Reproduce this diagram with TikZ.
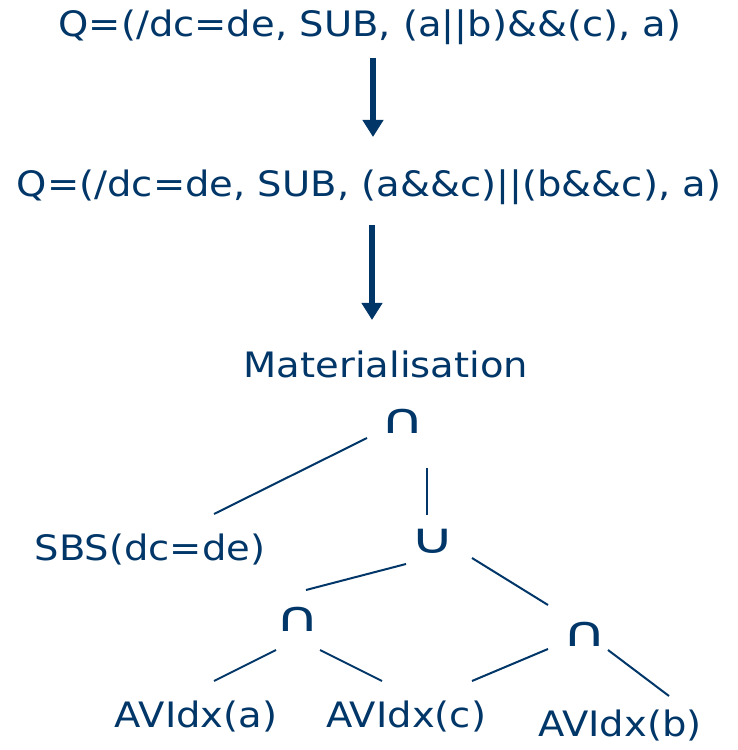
\documentclass[tikz,border=0pt]{standalone}
\usepackage{fontspec}
\setmainfont{DejaVu Sans}[FakeStretch=1.1]
\newfontfamily\opfont{DejaVu Sans}[FakeStretch=1.45]
\usetikzlibrary{positioning,calc,arrows.meta}
\definecolor{inkblue}{RGB}{0,54,104}
\tikzstyle{term} = [inkblue, anchor=base, inner sep=0pt, font=\fontsize{35}{42}\selectfont]
\tikzstyle{op} = [term, font=\opfont\fontsize{42}{48}\selectfont]
\tikzstyle{flow} = [inkblue, line width=6pt, -{Triangle[width=20pt,length=17pt]}]
\tikzstyle{link} = [inkblue, line width=2pt]

\begin{document}
\begin{tikzpicture}[x=1pt,y=1pt]
  \useasboundingbox (0,0) rectangle (738,750);

  % rewriting of the query
  \node[term] (q1) at (370,713) {Q=(/dc=de, SUB, (a||b)\&\&(c), a)};
  \node[term] (q2) at (369,553) {Q=(/dc=de, SUB, (a\&\&c)||(b\&\&c), a)};
  \node[term] (mat) at (386,372) {Materialisation};
  \draw[flow] ($(q1.base)+(3,-21)$) -- ($(q2.base)+(4,60)$);
  \draw[flow] ($(q2.base)+(3,-28)$) -- ($(mat.base)+(-14,58)$);

  % operator tree
  \node[op] (capA) at (403,316) {∩};
  \node[term] (sbs) at (150,189) {SBS(dc=de)};
  \node[op] (cup) at (433,196) {∪};
  \node[op] (capB) at (298,118) {∩};
  \node[op] (capC) at (585,103) {∩};
  \node[term] (avA) at (196,23) {AVIdx(a)};
  \node[term] (avC) at (406,22) {AVIdx(c)};
  \node[term] (avB) at (620,13) {AVIdx(b)};

  \draw[link] ($(capA.base)+(-36,-4)$) -- ($(sbs.base)+(64,47)$);
  \draw[link] ($(capA.base)+(24,-34)$) -- ($(cup.base)+(-6,39)$);
  \draw[link] ($(cup.base)+(-27,-10)$) -- ($(capB.base)+(8,42)$);
  \draw[link] ($(cup.base)+(39,-4)$) -- ($(capC.base)+(-37,42)$);
  \draw[link] ($(capB.base)+(-22,-18)$) -- ($(avA.base)+(18,46)$);
  \draw[link] ($(capB.base)+(22,-18)$) -- ($(avC.base)+(-24,47)$);
  \draw[link] ($(capC.base)+(-37,-2)$) -- ($(avC.base)+(66,47)$);
  \draw[link] ($(capC.base)+(23,-3)$) -- ($(avB.base)+(49,41)$);
\end{tikzpicture}
\end{document}
